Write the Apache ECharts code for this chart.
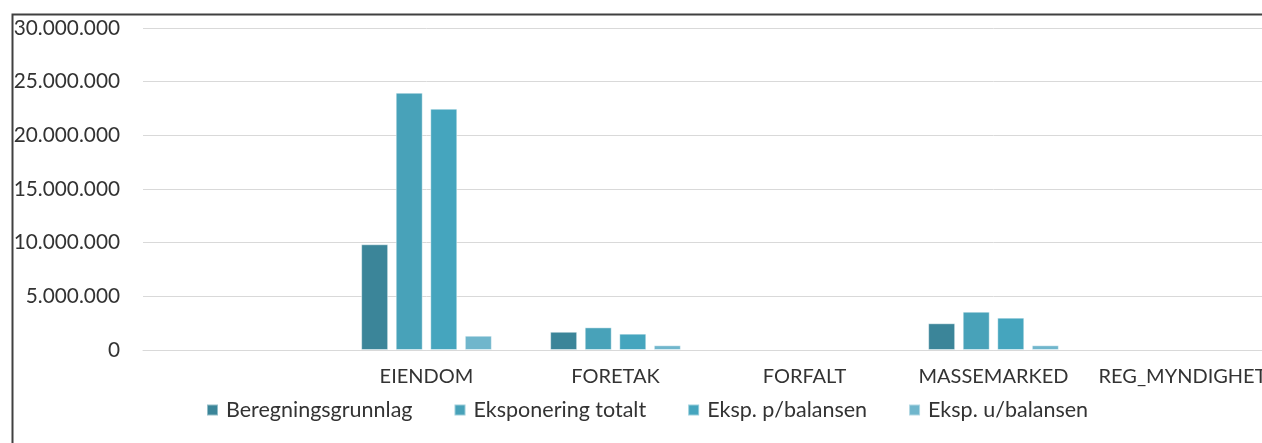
<!DOCTYPE html>
<html>
<head>
<meta charset="utf-8">
<script src="https://cdn.jsdelivr.net/npm/echarts@6/dist/echarts.min.js"></script>
<style>
  html, body { margin: 0; padding: 0; background: #fff; overflow: hidden; width: 1262px; height: 443px; }
  #chart { width: 1300px; height: 443px; }
</style>
</head>
<body>
<div id="chart"></div>
<script>
const categories = ['', 'EIENDOM', 'FORETAK', 'FORFALT', 'MASSEMARKED', 'REG_MYNDIGHET'];
const seriesNames = ['Beregningsgrunnlag', 'Eksponering totalt', 'Eksp. p/balansen', 'Eksp. u/balansen'];
const beregningsgrunnlag = [null, 9850000, 1700000, null, 2490000, null];
const eksponeringTotalt = [null, 23970000, 2110000, null, 3570000, null];
const ekspPBalansen = [null, 22480000, 1520000, null, 3010000, null];
const ekspUBalansen = [null, 1330000, 440000, null, 440000, null];
const yTicks = { min: 0, max: 30000000, interval: 5000000 };

const colors = ['#3B8599', '#48A2B9', '#45A5BE', '#70B6CC'];
const seriesData = [beregningsgrunnlag, eksponeringTotalt, ekspPBalansen, ekspUBalansen];
const font = 'Lato';
const textColor = '#333333';

function fmt(v) {
  return String(v).replace(/\B(?=(\d{3})+(?!\d))/g, '.');
}

const chart = echarts.init(document.getElementById('chart'), null, { renderer: 'canvas' });
chart.setOption({
  animation: false,
  color: colors,
  graphic: [{
    type: 'rect',
    left: 10, top: 12,
    shape: { x: 0, y: 0, width: 1400, height: 600 },
    style: { fill: 'none', stroke: '#404040', lineWidth: 2 },
    silent: true
  }],
  grid: { left: 143, top: 28, width: 1134, height: 322, containLabel: false },
  legend: {
    left: 206, top: 399, padding: 0,
    itemWidth: 11, itemHeight: 11, itemGap: 41,
    icon: 'rect',
    textStyle: { fontFamily: font, fontSize: 21.5, color: textColor, padding: [0, 0, 0, 3] },
    data: seriesNames
  },
  xAxis: {
    type: 'category',
    data: categories,
    axisLine: { show: true, lineStyle: { color: '#d9d9d9', width: 1 } },
    axisTick: { show: false },
    axisLabel: { fontFamily: font, fontSize: 20, color: textColor, margin: 17, interval: 0 }
  },
  yAxis: {
    type: 'value',
    min: yTicks.min, max: yTicks.max, interval: yTicks.interval,
    axisLine: { show: false },
    axisTick: { show: false },
    splitLine: { lineStyle: { color: '#d9d9d9', width: 1 } },
    axisLabel: { fontFamily: font, fontSize: 20.8, color: textColor, margin: 23, formatter: fmt }
  },
  series: seriesNames.map((name, i) => ({
    name: name,
    type: 'bar',
    data: seriesData[i],
    barWidth: 27,
    barGap: '28%',
    itemStyle: { color: colors[i], borderColor: 'rgba(255,255,255,0.45)', borderWidth: 1 }
  }))
});
</script>
</body>
</html>
